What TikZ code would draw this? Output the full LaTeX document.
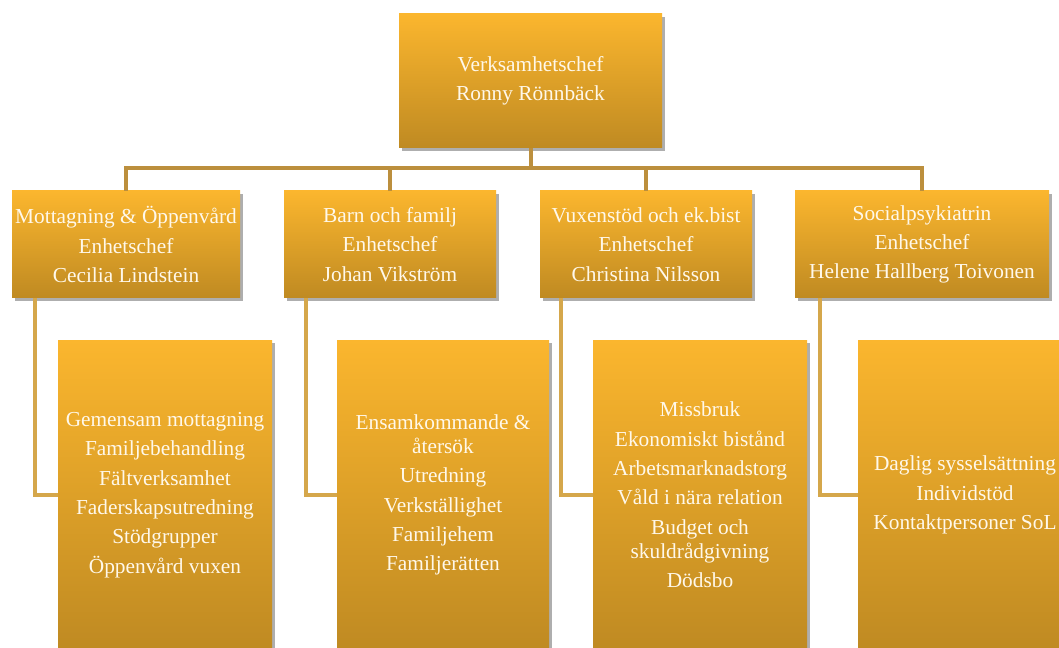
\documentclass[tikz,border=0pt]{standalone}
\usepackage{fontspec}
\setmainfont{Liberation Serif}
\usepackage{xcolor}
\usepackage{tikz}
\usetikzlibrary{calc,shadows}
\definecolor{boxtop}{HTML}{FBB62E}
\definecolor{boxbot}{HTML}{BF8A22}
\definecolor{boxtext}{HTML}{FFF8EA}
\definecolor{linkdark}{HTML}{BC8F3D}
\definecolor{linklight}{HTML}{D5A74B}
\tikzset{
  unit/.style={rectangle, top color=boxtop, bottom color=boxbot, text=boxtext,
    align=center, inner sep=2pt, font=\fontsize{16}{18}\selectfont,
    drop shadow={shadow xshift=2.5pt, shadow yshift=-2.5pt, fill=black!45, opacity=.7}},
  head/.style={unit, minimum height=80.25pt},
  sub/.style={unit, minimum height=232.5pt},
  link/.style={draw=linkdark, line width=3pt},
  sublink/.style={draw=linklight, line width=3pt},
}

\begin{document}
\begin{tikzpicture}[x=0.75pt, y=-0.75pt]
  \useasboundingbox (0,0) rectangle (1059,648);
  \fill[white] (0,0) rectangle (1059,648);
  \clip (0,0) rectangle (1059,648);

  \node[unit, minimum width=197.25pt, minimum height=100.5pt] (chef) at (530.5,81)
    {Verksamhetschef\\[4pt]Ronny Rönnbäck};

  \node[head, minimum width=171pt] (m1) at (126,244.5)
    {Mottagning \& Öppenvård\\[4pt]Enhetschef\\[4pt]Cecilia Lindstein};
  \node[head, minimum width=159pt] (m2) at (390,244.5)
    {Barn och familj\\[4pt]Enhetschef\\[4pt]Johan Vikström};
  \node[head, minimum width=159pt] (m3) at (646,244.5)
    {Vuxenstöd och ek.bist\\[4pt]Enhetschef\\[4pt]Christina Nilsson};
  \node[head, minimum width=190.5pt] (m4) at (922,244.5)
    {Socialpsykiatrin\\[4pt]Enhetschef\\[4pt]Helene Hallberg Toivonen};

  \node[sub, minimum width=160.5pt] (s1) at (165,495)
    {Gemensam mottagning\\[4pt]Familjebehandling\\[4pt]Fältverksamhet\\[4pt]Faderskapsutredning\\[4pt]Stödgrupper\\[4pt]Öppenvård vuxen};
  \node[sub, minimum width=159pt] (s2) at (443,495)
    {Ensamkommande \&\\återsök\\[4pt]Utredning\\[4pt]Verkställighet\\[4pt]Familjehem\\[4pt]Familjerätten};
  \node[sub, minimum width=160.5pt] (s3) at (700,495)
    {Missbruk\\[4pt]Ekonomiskt bistånd\\[4pt]Arbetsmarknadstorg\\[4pt]Våld i nära relation\\[4pt]Budget och\\skuldrådgivning\\[4pt]Dödsbo};
  \node[sub, minimum width=160.5pt] (s4) at (965,495)
    {Daglig sysselsättning\\[4pt]Individstöd\\[4pt]Kontaktpersoner SoL};

  % bar under the head of the unit
  \coordinate (hub) at (530.5,168);
  \draw[link] (chef.south) -- (hub);
  \draw[link] (hub) -| (m1.north);
  \draw[link] (hub) -| (m2.north);
  \draw[link] (hub) -| (m3.north);
  \draw[link] (hub) -| (m4.north);

  \draw[sublink] ($(m1.south west)+(23,0)$) |- (s1.west);
  \draw[sublink] ($(m2.south west)+(22,0)$) |- (s2.west);
  \draw[sublink] ($(m3.south west)+(21,0)$) |- (s3.west);
  \draw[sublink] ($(m4.south west)+(25,0)$) |- (s4.west);
\end{tikzpicture}
\end{document}
